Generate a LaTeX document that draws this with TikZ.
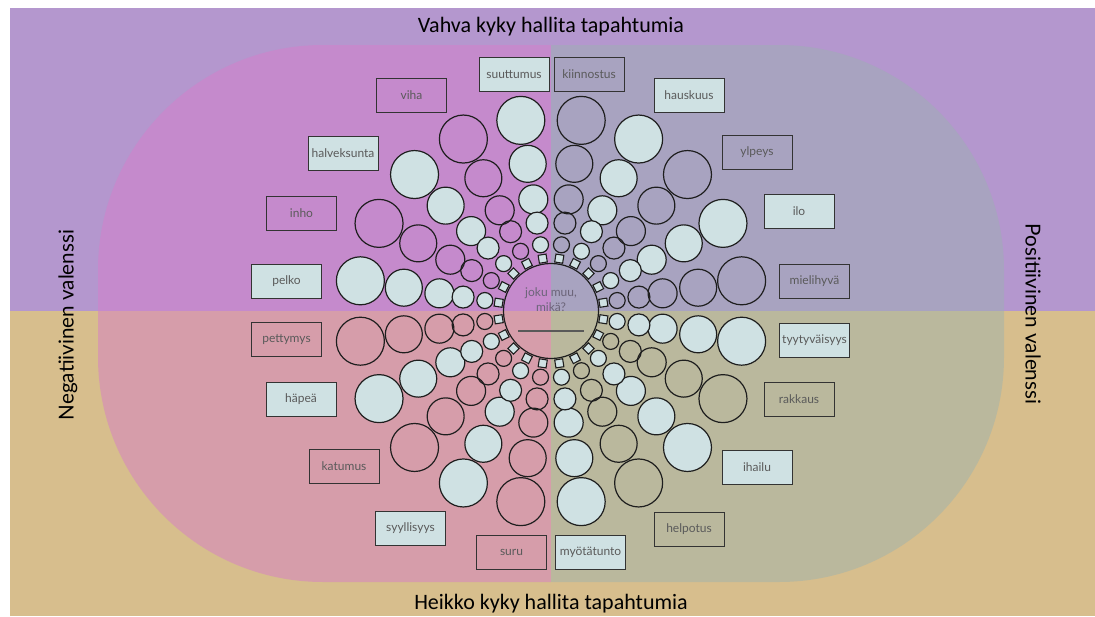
\documentclass[tikz,border=0pt]{standalone}
\usepackage{fontspec}
\setmainfont{Lato}
\newfontfamily\titlefont{Carlito}
\definecolor{bgtop}{HTML}{B497CE}
\definecolor{bgbot}{HTML}{D7BE8D}
\definecolor{tlc}{HTML}{C58ACC}
\definecolor{blc}{HTML}{D69DAA}
\definecolor{trc}{HTML}{A8A3C0}
\definecolor{brc}{HTML}{BAB89D}
\definecolor{lightc}{HTML}{CFE1E3}
\definecolor{ringc}{HTML}{1E1E1E}
\definecolor{boxline}{HTML}{333333}
\definecolor{labeltext}{HTML}{5A5A5A}
\definecolor{midtext}{HTML}{6B6478}
\begin{document}
\begin{tikzpicture}[x=1pt,y=-1pt,
  lbl/.style={draw=boxline, line width=1pt, minimum width=70pt, minimum height=34pt,
    inner sep=0pt, font=\fontsize{12}{14}\selectfont, text=labeltext},
  lblF/.style={lbl, fill=lightc},
  ring/.style={draw=ringc, line width=1.2pt},
  sqbox/.style={draw=ringc, line width=1.1pt, fill=lightc, minimum size=8pt, inner sep=0pt},
  titletext/.style={font=\titlefont\fontsize{22}{26}\selectfont, text=black},
  sidetext/.style={font=\fontsize{20.6}{24}\selectfont, text=black}]
\useasboundingbox (0,0) rectangle (1095,616);
% background
\fill[bgtop] (10,8) rectangle (1095,310.5);
\fill[bgbot] (10,310.5) rectangle (1095,616);
% stadium
\begin{scope}
\clip[rounded corners=225pt] (98,45) rectangle (1004,582);
\fill[tlc] (90,40) rectangle (551,310.5);
\fill[blc] (90,310.5) rectangle (551,590);
\fill[trc] (551,40) rectangle (1010,310.5);
\fill[brc] (551,310.5) rectangle (1010,590);
\end{scope}
% spokes
\foreach \k in {0,...,19}{
  \pgfmathsetmacro\a{9+18*\k}
  \pgfmathtruncatemacro\f{mod(\k,2)}
  \ifnum\f=0 \def\fc{lightc}\else\def\fc{none}\fi
  \draw[ring, fill=\fc] (551,311) ++(\a:193) circle[radius=24];
  \draw[ring, fill=\fc] (551,311) ++(\a:149) circle[radius=18.5];
  \draw[ring, fill=\fc] (551,311) ++(\a:113) circle[radius=14.5];
  \draw[ring, fill=\fc] (551,311) ++(\a:89) circle[radius=11];
  \draw[ring, fill=\fc] (551,311) ++(\a:67) circle[radius=8];
  \path (551,311) ++(\a:53) node[sqbox, rotate=-\a] (sq\k) {};
}
% centre
\node[circle, draw=ringc, line width=1.2pt, minimum size=95pt, inner sep=0pt] (mid) at (551,311) {};
\node[text=midtext, font=\fontsize{12}{14}\selectfont] (mid1) at (551,293) {joku muu,};
\node[text=midtext, font=\fontsize{12}{14}\selectfont] (mid2) at (551,307) {mikä?};
\coordinate (ml) at (518,331);
\coordinate (mr) at (584,331);
\draw[draw=gray!70!black, line width=1.2pt] (ml) -- (mr);
% labels top-left
\node[lblF] (suuttumus) at (514,74.5) {suuttumus};
\node[lbl] (viha) at (411.5,95.5) {viha};
\node[lblF] (halveksunta) at (343,153) {halveksunta};
\node[lbl] (inho) at (301.5,213) {inho};
\node[lblF] (pelko) at (286.5,281.5) {pelko};
% top-right
\node[lbl] (kiinnostus) at (589,74.5) {kiinnostus};
\node[lblF] (hauskuus) at (689,95.5) {hauskuus};
\node[lbl] (ylpeys) at (757,152) {ylpeys};
\node[lblF] (ilo) at (799,211) {ilo};
\node[lbl] (mielihyva) at (814.5,281.5) {mielihyvä};
% bottom-left
\node[lbl] (pettymys) at (286.5,339.5) {pettymys};
\node[lblF] (hapea) at (301,399) {häpeä};
\node[lbl] (katumus) at (344,466.5) {katumus};
\node[lblF] (syyllisyys) at (410.5,528.5) {syyllisyys};
\node[lbl] (suru) at (511.5,552.5) {suru};
% bottom-right
\node[lblF] (tyytyvaisyys) at (814.5,340) {tyytyväisyys};
\node[lbl] (rakkaus) at (799,399) {rakkaus};
\node[lblF] (ihailu) at (757,467) {ihailu};
\node[lbl] (helpotus) at (689,529) {helpotus};
\node[lblF] (myotatunto) at (590.5,552.5) {myötätunto};
% axis titles
\node[titletext] (strong) at (551,27) {Vahva kyky hallita tapahtumia};
\node[titletext] (weak) at (551,604) {Heikko kyky hallita tapahtumia};
\node[sidetext, rotate=90] (neg) at (68,325) {Negatiivinen valenssi};
\node[sidetext, rotate=-90] (pos) at (1033,314) {Positiivinen valenssi};
\end{tikzpicture}
\end{document}
